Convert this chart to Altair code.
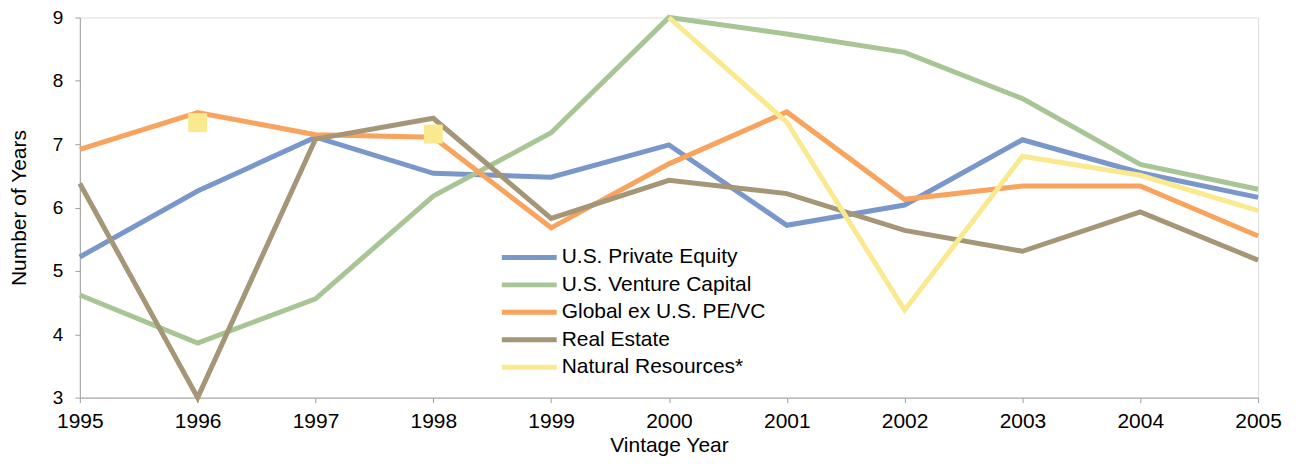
import altair as alt
import pandas as pd

years = list(range(1995, 2006))
series_names = ["U.S. Private Equity", "U.S. Venture Capital", "Global ex U.S. PE/VC",
                "Real Estate", "Natural Resources*"]
colors = ["#7A97CC", "#A8C596", "#F8A35E", "#A69678", "#FBE98F"]

us_pe = [5.22, 6.26, 7.11, 6.54, 6.48, 6.99, 5.72, 6.04, 7.07, 6.55, 6.16]
us_vc = [4.62, 3.86, 4.56, 6.18, 7.18, 9.00, 8.74, 8.45, 7.72, 6.68, 6.29]
global_ex = [6.92, 7.50, 7.15, 7.11, 5.68, 6.69, 7.51, 6.13, 6.34, 6.34, 5.55]
real_estate = [6.38, 3.00, 7.08, 7.41, 5.83, 6.43, 6.22, 5.64, 5.31, 5.93, 5.17]
nat_res = [None, 7.34, None, 7.16, None, 9.00, 7.35, 4.38, 6.81, 6.51, 5.95]

all_series = [us_pe, us_vc, global_ex, real_estate, nat_res]

rows = []
for name, vals in zip(series_names, all_series):
    for i, (y, v) in enumerate(zip(years, vals)):
        if v is None:
            continue
        # isolated points (neighbours missing) are drawn as markers only
        prev_ok = i > 0 and vals[i - 1] is not None
        next_ok = i < len(vals) - 1 and vals[i + 1] is not None
        rows.append({"series": name, "year": y, "value": v,
                     "isolated": not (prev_ok or next_ok)})
df = pd.DataFrame(rows)

color_scale = alt.Scale(domain=series_names, range=colors)

x_enc = alt.X("year:Q", title="Vintage Year",
              scale=alt.Scale(domain=[1995, 2005], nice=False, zero=False),
              axis=alt.Axis(values=years, format="d", grid=False, labelFontSize=21,
                            titleFontSize=21, titleFontWeight="normal", labelColor="#000",
                            titleColor="#000", domainColor="#A0A0A0", tickColor="#A0A0A0",
                            tickSize=5, labelPadding=8, titlePadding=3,
                            labelFlush=False, labelOverlap=False))
y_enc = alt.Y("value:Q", title="Number of Years",
              scale=alt.Scale(domain=[3, 9], nice=False, zero=False),
              axis=alt.Axis(values=[3, 4, 5, 6, 7, 8, 9], grid=False, labelFontSize=19,
                            titleFontSize=21, titleFontWeight="normal", labelColor="#000",
                            titleColor="#000", domainColor="#A0A0A0", tickColor="#A0A0A0",
                            tickSize=5, labelPadding=12, titlePadding=23))

lines = alt.Chart(df).transform_filter(alt.datum.isolated == False).mark_line(
    strokeWidth=5, strokeJoin="miter"
).encode(
    x=x_enc, y=y_enc,
    color=alt.Color("series:N", scale=color_scale, sort=series_names,
                    legend=alt.Legend(title=None, orient="none", legendX=440, legendY=230,
                                      symbolType="M-5,0L5,0", symbolSize=121,
                                      symbolStrokeWidth=5, labelFontSize=21,
                                      labelColor="#000", rowPadding=5.5, labelOffset=22,
                                      labelLimit=400)),
    detail="series:N",
    order="year:Q",
)

points = alt.Chart(df).transform_filter(alt.datum.isolated == True).mark_point(
    shape="square", filled=True, size=360, opacity=1
).encode(
    x=x_enc, y=y_enc,
    color=alt.Color("series:N", scale=color_scale, legend=None),
)

chart = alt.layer(lines, points).properties(
    width=1181, height=381,
    padding={"left": 72, "top": 9, "right": 30, "bottom": 58},
    autosize=alt.AutoSizeParams(type="none"),
).configure_view(stroke=None).configure(font="Liberation Sans")

chart.save("out.html", embed_options={"renderer": "svg", "actions": False})
